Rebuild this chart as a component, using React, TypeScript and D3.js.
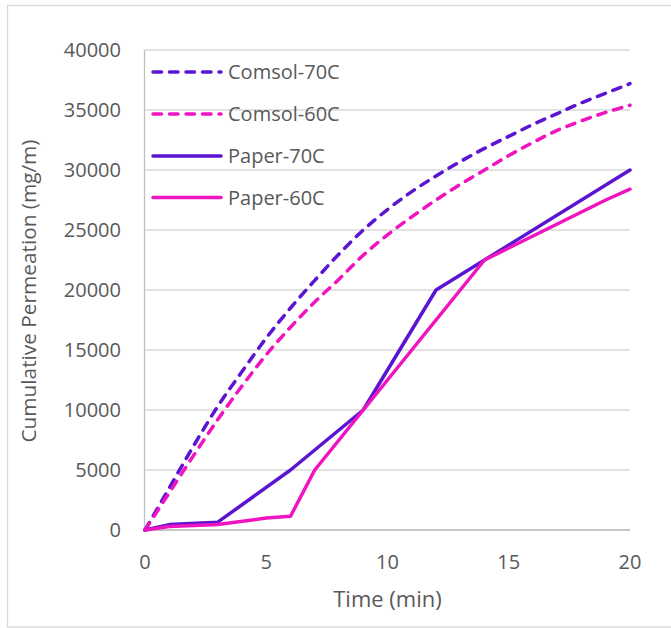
import React from "react";
import * as d3 from "d3";

const comsolTime = [0, 1, 2, 3, 4, 5, 6, 7, 8, 9, 10, 11, 12, 13, 14, 15, 16, 17, 18, 19, 20];
const comsol70 = [0, 3500, 7000, 10300, 13200, 16000, 18500, 20800, 23000, 25000, 26700, 28200, 29500, 30700, 31800, 32800, 33800, 34700, 35600, 36400, 37200];
const comsol60 = [0, 3100, 6200, 9200, 12000, 14600, 16900, 19000, 20900, 22900, 24600, 26100, 27500, 28800, 30000, 31200, 32300, 33300, 34100, 34800, 35400];
const paper70Time = [0, 1, 3, 6, 9, 12, 20];
const paper70 = [0, 450, 650, 5000, 10000, 20000, 30000];
const paper60Time = [0, 1, 3, 5, 6, 7, 9, 12, 14, 19, 20];
const paper60 = [0, 300, 450, 1000, 1150, 5000, 10000, 17500, 22500, 27500, 28400];

const xTicks = [0, 5, 10, 15, 20];
const yTicks = [0, 5000, 10000, 15000, 20000, 25000, 30000, 35000, 40000];
const seriesNames = ["Comsol-70C", "Comsol-60C", "Paper-70C", "Paper-60C"];

const PURPLE = "#5a14d2";
const PINK = "#f014c0";
const FONT = "'Open Sans', sans-serif";
const TEXT = "#595959";

export default function App() {
  const x = d3.scaleLinear().domain([0, 20]).range([145, 630]);
  const y = d3.scaleLinear().domain([0, 40000]).range([530, 50]);

  const mk = (ts: number[], vs: number[], curve: d3.CurveFactory) =>
    d3
      .line<number>()
      .x((_, i) => x(ts[i]))
      .y((v) => y(v))
      .curve(curve)(vs) || "";

  const series = [
    { name: seriesNames[0], d: mk(comsolTime, comsol70, d3.curveMonotoneX), color: PURPLE, dash: true },
    { name: seriesNames[1], d: mk(comsolTime, comsol60, d3.curveMonotoneX), color: PINK, dash: true },
    { name: seriesNames[2], d: mk(paper70Time, paper70, d3.curveLinear), color: PURPLE, dash: false },
    { name: seriesNames[3], d: mk(paper60Time, paper60, d3.curveLinear), color: PINK, dash: false },
  ];

  const dashArr = "8.5 8";
  const legendY = [72, 114, 156, 197.5];

  return (
    <svg
      width={671}
      height={628}
      style={{ position: "absolute", left: 0, top: 0, background: "#fff" }}
      fontFamily={FONT}
    >
      <rect x={7.5} y={5.5} width={680} height={621.5} fill="#fff" stroke="#d9d9d9" strokeWidth={1.3} />
      {yTicks.map((t) => (
        <line key={"g" + t} x1={145} x2={630} y1={y(t)} y2={y(t)} stroke="#d9d9d9" strokeWidth={1.3} />
      ))}
      <line x1={144.5} x2={144.5} y1={50} y2={530} stroke="#bfbfbf" strokeWidth={1.3} />
      <line x1={144} x2={630} y1={530} y2={530} stroke="#bfbfbf" strokeWidth={1.3} />
      {yTicks.map((t) => (
        <text key={"yl" + t} x={121} y={y(t)} dy="0.35em" textAnchor="end" fontSize={20} fill={TEXT}>
          {t}
        </text>
      ))}
      {xTicks.map((t) => (
        <text key={"xl" + t} x={x(t)} y={562} dy="0.35em" textAnchor="middle" fontSize={20} fill={TEXT}>
          {t}
        </text>
      ))}
      <text x={387.5} y={599} dy="0.35em" textAnchor="middle" fontSize={22} fill={TEXT}>
        Time (min)
      </text>
      <text
        transform={`translate(29,291) rotate(-90)`}
        dy="0.35em"
        textAnchor="middle"
        fontSize={20.8}
        fill={TEXT}
      >
        Cumulative Permeation (mg/m)
      </text>
      {series.map((s) => (
        <path
          key={s.name}
          d={s.d}
          fill="none"
          stroke={s.color}
          strokeWidth={3.5}
          strokeLinejoin="round"
          strokeLinecap="round"
          strokeDasharray={s.dash ? dashArr : undefined}
        />
      ))}
      {series.map((s, i) => (
        <g key={"lg" + s.name}>
          <line
            x1={153}
            x2={221}
            y1={legendY[i]}
            y2={legendY[i]}
            stroke={s.color}
            strokeWidth={3.5}
            strokeLinecap="round"
            strokeDasharray={s.dash ? dashArr : undefined}
          />
          <text x={228} y={legendY[i]} dy="0.35em" fontSize={20} fill={TEXT}>
            {s.name}
          </text>
        </g>
      ))}
    </svg>
  );
}
